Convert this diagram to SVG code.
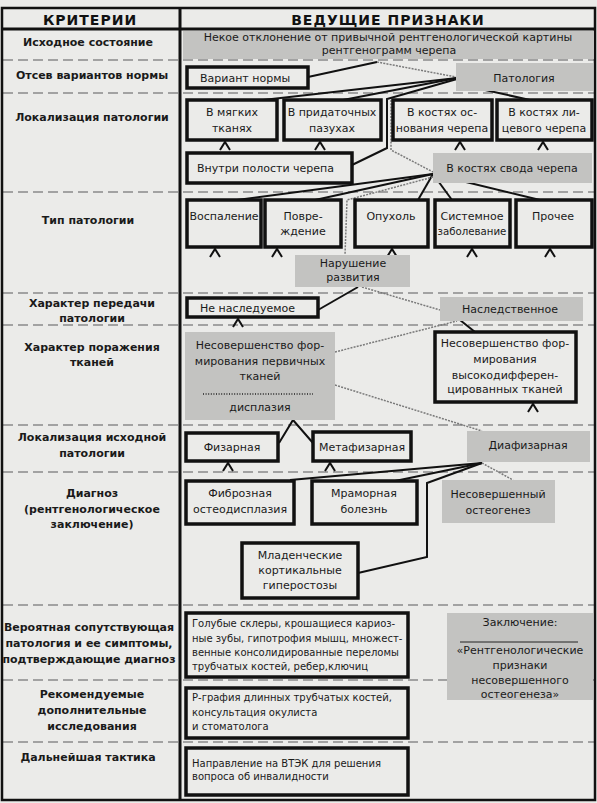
<svg xmlns="http://www.w3.org/2000/svg" width="597" height="803" viewBox="0 0 597 803">
<style>
.bg{fill:#ebebe9}
.frame{fill:none;stroke:#111;stroke-width:2.5}
.sep{stroke:#8a8a8a;stroke-width:1.6;stroke-dasharray:10 5;fill:none}
.box{fill:#ebebe9;stroke:#111;stroke-width:3.5}
.shade{fill:#c3c3c1;stroke:none}
.t{font-family:"DejaVu Sans",sans-serif;font-size:11px;fill:#1a1a1a}
.s{font-family:"DejaVu Sans",sans-serif;font-size:10px;fill:#1a1a1a}
.m{text-anchor:middle}
.lbl{font-family:"DejaVu Sans",sans-serif;font-weight:bold;font-size:11px;fill:#1a1a1a;text-anchor:middle}
.hd{font-family:"DejaVu Sans",sans-serif;font-weight:900;font-size:14px;fill:#111;text-anchor:middle;letter-spacing:1px}
.ln{stroke:#111;stroke-width:2;fill:none;stroke-linejoin:miter}
.gl{stroke:#7a7a7a;stroke-width:1.5;stroke-dasharray:2 1.2;fill:none}
.car{stroke:#111;stroke-width:2;fill:none}
</style>
<rect class="bg" x="0" y="0" width="597" height="803"/>

<g id="table">
<line class="sep" x1="3" y1="60" x2="594" y2="60"/>
<line class="sep" x1="3" y1="93" x2="594" y2="93"/>
<line class="sep" x1="3" y1="192" x2="594" y2="192"/>
<line class="sep" x1="3" y1="293" x2="594" y2="293"/>
<line class="sep" x1="3" y1="325" x2="594" y2="325"/>
<line class="sep" x1="3" y1="425" x2="594" y2="425"/>
<line class="sep" x1="3" y1="472" x2="594" y2="472"/>
<line class="sep" x1="3" y1="605" x2="594" y2="605"/>
<line class="sep" x1="3" y1="680" x2="594" y2="680"/>
<line class="sep" x1="3" y1="742" x2="594" y2="742"/>
<rect class="frame" x="2" y="8" width="593" height="792"/>
<line x1="2" y1="29" x2="595" y2="29" stroke="#111" stroke-width="3"/>
<line x1="180" y1="8" x2="180" y2="800" stroke="#111" stroke-width="3"/>
<text class="hd" x="90" y="25">КРИТЕРИИ</text>
<text class="hd" x="388" y="25">ВЕДУЩИЕ ПРИЗНАКИ</text>
<text class="lbl" x="88" y="46">Исходное состояние</text>
<text class="lbl" x="92" y="79">Отсев вариантов нормы</text>
<text class="lbl" x="92" y="121">Локализация патологии</text>
<text class="lbl" x="88" y="224">Тип патологии</text>
<text class="lbl" x="92" y="307">Характер передачи</text>
<text class="lbl" x="92" y="322">патологии</text>
<text class="lbl" x="92" y="351">Характер поражения</text>
<text class="lbl" x="92" y="366">тканей</text>
<text class="lbl" x="92" y="441">Локализация исходной</text>
<text class="lbl" x="92" y="457">патологии</text>
<text class="lbl" x="92" y="497">Диагноз</text>
<text class="lbl" x="92" y="513">(рентгенологическое</text>
<text class="lbl" x="92" y="528">заключение)</text>
<text class="lbl" x="89" y="631">Вероятная сопутствующая</text>
<text class="lbl" x="89" y="647">патология и ее симптомы,</text>
<text class="lbl" x="89" y="663">подтверждающие диагноз</text>
<text class="lbl" x="92" y="698">Рекомендуемые</text>
<text class="lbl" x="92" y="714">дополнительные</text>
<text class="lbl" x="92" y="730">исследования</text>
<text class="lbl" x="88" y="761">Дальнейшая тактика</text>
</g>

<g id="n-ishodnoe"><rect class="shade" x="183" y="31" width="411" height="28"/><text class="t m" x="388" y="41">Некое отклонение от привычной рентгенологической картины</text><text class="t m" x="389" y="54">рентгенограмм черепа</text></g>

<g id="connectors">
<polyline class="ln" points="308,77 377,62"/>
<polyline class="gl" points="377,62 456,77"/>
<polyline class="ln" points="457,78 263,100"/>
<polyline class="ln" points="457,78 343,100"/>
<polyline class="ln" points="457,79 387,99 387,148 352,165"/>
<polyline class="ln" points="458,84 530,100"/>
<polyline class="gl" points="391,100 391,150 433,172"/>
<polyline class="ln" points="433,174 237,200"/>
<polyline class="ln" points="433,174 315,200"/>
<polyline class="ln" points="433,174 418,200"/>
<polyline class="ln" points="433,174 452,200"/>
<polyline class="ln" points="433,174 540,200"/>
<polyline class="gl" points="433,177 347,200 345,255"/>
<polyline class="ln" points="358,287 318,310"/>
<polyline class="gl" points="362,287 440,310"/>
<polyline class="ln" points="460,320 475,332"/>
<polyline class="gl" points="335,352 457,321"/>
<polyline class="gl" points="335,385 482,431"/>
<polyline class="ln" points="279,443 293,420 313,443"/>
<polyline class="ln" points="482,463 290,480"/>
<polyline class="ln" points="482,463 395,481"/>
<polyline class="ln" points="482,463 427,483 427,557 358,573"/>
<polyline class="gl" points="482,463 513,480"/>
<polyline class="car" points="220,150 225,142 230,150"/>
<polyline class="car" points="315,150 320,142 325,150"/>
<polyline class="car" points="455,150 460,142 465,150"/>
<polyline class="car" points="538,150 543,142 548,150"/>
<polyline class="car" points="210,257 215,249 220,257"/>
<polyline class="car" points="272,257 277,249 282,257"/>
<polyline class="car" points="387,257 392,249 397,257"/>
<polyline class="car" points="467,257 472,249 477,257"/>
<polyline class="car" points="545,257 550,249 555,257"/>
<polyline class="car" points="233,327 238,319 243,327"/>
<polyline class="car" points="528,412 533,404 538,412"/>
<polyline class="car" points="223,471 228,463 233,471"/>
<polyline class="car" points="325,471 330,463 335,471"/>
</g>

<g id="n-norma"><rect class="box" x="187" y="67" width="121" height="21"/><text class="t" x="200" y="82">Вариант нормы</text></g>
<g id="n-patologia"><rect class="shade" x="456" y="63" width="137" height="28"/><text class="t m" x="524" y="82">Патология</text></g>

<g id="n-myagkie"><rect class="box" x="187" y="100" width="90" height="40"/><text class="t m" x="232" y="116">В мягких</text><text class="t m" x="232" y="132">тканях</text></g>
<g id="n-pazuhi"><rect class="box" x="284" y="100" width="97" height="40"/><text class="t m" x="332" y="116">В придаточных</text><text class="t m" x="332" y="132">пазухах</text></g>
<g id="n-osnovanie"><rect class="box" x="393" y="100" width="99" height="40"/><text class="t m" x="442" y="116">В костях ос-</text><text class="t m" x="442" y="132">нования черепа</text></g>
<g id="n-litsevoy"><rect class="box" x="497" y="100" width="95" height="40"/><text class="t m" x="544" y="116">В костях ли-</text><text class="t m" x="544" y="132">цевого черепа</text></g>
<g id="n-polost"><rect class="box" x="187" y="153" width="165" height="30"/><text class="t" x="197" y="172">Внутри полости черепа</text></g>
<g id="n-svod"><rect class="shade" x="433" y="153" width="159" height="30"/><text class="t m" x="512" y="172">В костях свода черепа</text></g>

<g id="n-vospalenie"><rect class="box" x="187" y="200" width="74" height="47"/><text class="t m" x="224" y="220">Воспаление</text></g>
<g id="n-povrezhdenie"><rect class="box" x="265" y="200" width="76" height="47"/><text class="t m" x="303" y="220">Повре-</text><text class="t m" x="303" y="235">ждение</text></g>
<g id="n-opuhol"><rect class="box" x="355" y="200" width="73" height="47"/><text class="t m" x="391" y="220">Опухоль</text></g>
<g id="n-sistemnoe"><rect class="box" x="435" y="200" width="75" height="47"/><text class="t m" x="472" y="220">Системное</text><text class="t m" x="472" y="235" style="font-size:10.2px">заболевание</text></g>
<g id="n-prochee"><rect class="box" x="516" y="200" width="76" height="47"/><text class="t m" x="553" y="220">Прочее</text></g>
<g id="n-narushenie"><rect class="shade" x="295" y="255" width="115" height="32"/><text class="t m" x="353" y="267">Нарушение</text><text class="t m" x="353" y="281">развития</text></g>

<g id="n-nenasl"><rect class="box" x="187" y="298" width="131" height="19"/><text class="t" x="200" y="312">Не наследуемое</text></g>
<g id="n-nasl"><rect class="shade" x="440" y="297" width="143" height="24"/><text class="t m" x="510" y="313">Наследственное</text></g>

<g id="n-pervichnye"><rect class="shade" x="185" y="332" width="150" height="88"/><text class="t m" x="260" y="349">Несовершенство фор-</text><text class="t m" x="260" y="365">мирования первичных</text><text class="t m" x="260" y="380">тканей</text><line x1="203" y1="394" x2="313" y2="394" stroke="#222" stroke-width="1.3" stroke-dasharray="1 1.6"/><text class="t m" x="260" y="411">дисплазия</text></g>
<g id="n-vysoko"><rect class="box" x="435" y="332" width="141" height="70"/><text class="t m" x="505" y="347">Несовершенство фор-</text><text class="t m" x="505" y="363">мирования</text><text class="t m" x="505" y="379">высокодифферен-</text><text class="t m" x="505" y="393">цированных тканей</text></g>

<g id="n-fizarnaya"><rect class="box" x="186" y="433" width="92" height="28"/><text class="t m" x="232" y="451">Физарная</text></g>
<g id="n-metafizarnaya"><rect class="box" x="313" y="432" width="98" height="29"/><text class="t m" x="362" y="451">Метафизарная</text></g>
<g id="n-diafizarnaya"><rect class="shade" x="467" y="431" width="123" height="31"/><text class="t m" x="528" y="449">Диафизарная</text></g>

<g id="n-fibroznaya"><rect class="box" x="186" y="481" width="108" height="43"/><text class="t m" x="240" y="497">Фиброзная</text><text class="t m" x="240" y="513">остеодисплазия</text></g>
<g id="n-mramornaya"><rect class="box" x="312" y="481" width="105" height="43"/><text class="t m" x="364" y="497">Мраморная</text><text class="t m" x="364" y="513">болезнь</text></g>
<g id="n-osteogenez"><rect class="shade" x="442" y="480" width="113" height="43"/><text class="t m" x="498" y="498">Несовершенный</text><text class="t m" x="498" y="514">остеогенез</text></g>
<g id="n-mladencheskie"><rect class="box" x="242" y="543" width="116" height="55"/><text class="t m" x="300" y="559">Младенческие</text><text class="t m" x="300" y="574">кортикальные</text><text class="t m" x="300" y="589">гиперостозы</text></g>

<g id="n-simptomy"><rect class="box" x="186" y="613" width="222" height="64"/><text class="s" x="192" y="627">Голубые склеры, крошащиеся кариоз-</text><text class="s" x="192" y="642">ные зубы, гипотрофия мышц, множест-</text><text class="s" x="192" y="656">венные консолидированные переломы</text><text class="s" x="192" y="670">трубчатых костей, ребер,ключиц</text></g>
<g id="n-zakl"><rect class="shade" x="447" y="613" width="146" height="87"/><text class="t m" x="520" y="626">Заключение:</text><line x1="460" y1="642" x2="578" y2="642" stroke="#222" stroke-width="1"/><text class="t m" x="520" y="654">«Рентгенологические</text><text class="t m" x="520" y="669">признаки</text><text class="t m" x="520" y="684">несовершенного</text><text class="t m" x="520" y="698">остеогенеза»</text></g>
<g id="n-issled"><rect class="box" x="186" y="688" width="222" height="50"/><text class="s" x="192" y="701">Р-графия длинных трубчатых костей,</text><text class="s" x="192" y="716">консультация окулиста</text><text class="s" x="192" y="730">и стоматолога</text></g>
<g id="n-taktika"><rect class="box" x="186" y="748" width="222" height="47"/><text class="s" x="192" y="767">Направление на ВТЭК для решения</text><text class="s" x="192" y="780">вопроса об инвалидности</text></g>
</svg>
